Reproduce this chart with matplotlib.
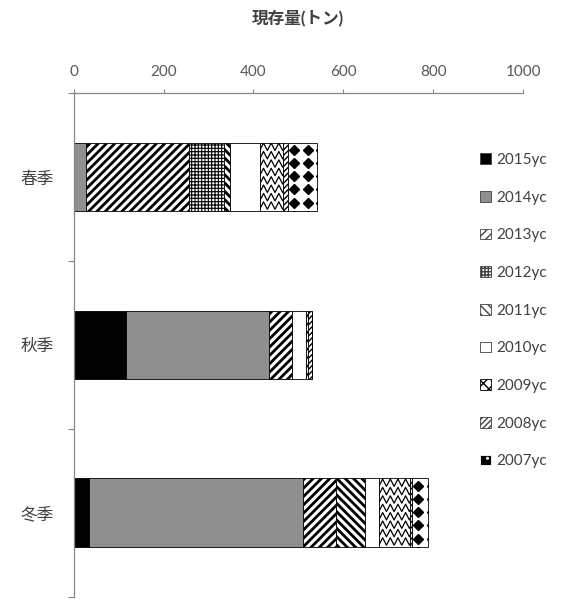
import numpy as np
import matplotlib
matplotlib.use("Agg")
import matplotlib.pyplot as plt
from matplotlib.patches import Patch

plt.rcParams["font.family"] = ["Lato", "Noto Sans CJK JP", "DejaVu Sans"]

seasons = ["春季", "秋季", "冬季"]
year_classes = ["2015yc", "2014yc", "2013yc", "2012yc", "2011yc",
                "2010yc", "2009yc", "2008yc", "2007yc"]
# standing stock (tons) per year class, order: spring, autumn, winter
yc2015 = [0, 117, 35]
yc2014 = [28, 317, 475]
yc2013 = [229, 52, 73]
yc2012 = [77, 0, 0]
yc2011 = [15, 0, 65]
yc2010 = [65, 31, 31]
yc2009 = [51, 5, 69]
yc2008 = [12, 8, 5]
yc2007 = [65, 0, 35]
values = [yc2015, yc2014, yc2013, yc2012, yc2011, yc2010, yc2009, yc2008, yc2007]

# face, hatch, hatch linewidth, special overlay
styles = [
    ("black", "", 1.0, None),
    ("#8f8f8f", "", 1.0, None),
    ("white", "////", 2.0, None),
    ("white", "+++++", 0.8, None),
    ("white", "\\\\\\\\", 2.0, None),
    ("white", "", 1.0, None),
    ("white", "", 1.0, "zigzag"),
    ("white", "//////", 1.0, None),
    ("white", "", 1.0, "diamond"),
]

fig = plt.figure(figsize=(5.75, 5.99), dpi=100)
ax = fig.add_axes([0.128, 0.0035, 0.7818, 0.8412])

ypos = np.arange(len(seasons))
bar_h = 0.41
left = np.zeros(len(seasons))
legend_handles = []

for name, vals, (face, hatch, hlw, special) in zip(year_classes, values, styles):
    vals = np.array(vals, dtype=float)
    with plt.rc_context({"hatch.linewidth": hlw}):
        bars = ax.barh(ypos, vals, left=left, height=bar_h, color=face,
                       edgecolor="black", linewidth=0.6, hatch=hatch, zorder=2)
    for rect, v in zip(bars, vals):
        if v <= 0 or special is None:
            continue
        x0, y0 = rect.get_x(), rect.get_y()
        w, h = rect.get_width(), rect.get_height()
        if special == "zigzag":
            period, amp, gap = 17.0, 0.022, 0.05
            xs = np.arange(x0 - period, x0 + w + period, period / 2)
            for yy in np.arange(y0 + gap / 2, y0 + h, gap):
                ys = yy + amp * np.where(np.arange(len(xs)) % 2 == 0, 1, -1)
                ln, = ax.plot(xs, ys, color="black", lw=0.9, zorder=3)
                ln.set_clip_path(rect)
        elif special == "diamond":
            dx, dy = 29.6, 0.079
            xs = np.arange(x0 + 14.0, x0 + w + dx, dx)
            ys = np.arange(y0 + 0.042, y0 + h + dy, dy)
            gx, gy = np.meshgrid(xs, ys)
            pts, = ax.plot(gx.ravel(), gy.ravel(), "D", color="black",
                           markersize=5.5, zorder=3)
            pts.set_clip_path(rect)
    left = left + vals
    if special == "zigzag":
        legend_handles.append(Patch(facecolor="white", edgecolor="black", hatch="xxx", lw=0.6))
    elif special == "diamond":
        legend_handles.append(Patch(facecolor="black", edgecolor="white", hatch="..", lw=0.6))
    else:
        legend_handles.append(Patch(facecolor=face, edgecolor="#404040", hatch=hatch, lw=0.6))

ax.set_xlim(0, 1000)
ax.set_ylim(2.5, -0.5)
ax.xaxis.set_ticks_position("top")
ax.xaxis.set_label_position("top")
ax.set_xticks([0, 200, 400, 600, 800, 1000])
ax.tick_params(axis="x", direction="out", length=3, width=0.8, color="#868686",
               labelsize=11, labelcolor="#595959", pad=7)
ax.set_yticks(ypos)
ax.set_yticklabels(seasons)
ax.set_yticks([-0.5, 0.5, 1.5, 2.5], minor=True)
ax.tick_params(axis="y", which="major", length=0, labelsize=12,
               labelcolor="#404040", pad=14)
ax.tick_params(axis="y", which="minor", direction="out", length=4, width=0.8,
               color="#868686")
for s in ["right", "bottom"]:
    ax.spines[s].set_visible(False)
for s in ["top", "left"]:
    ax.spines[s].set_color("#868686")
    ax.spines[s].set_linewidth(0.9)

fig.text(0.518, 0.97, "現存量(トン)", ha="center", va="center",
         fontsize=12, fontweight="bold", color="#404040")

ax.legend(legend_handles, year_classes, loc="upper left",
          bbox_to_anchor=(0.825, 0.755), bbox_transform=fig.transFigure,
          frameon=False, fontsize=11, labelcolor="#404040",
          handlelength=0.7, handleheight=0.7, handletextpad=0.35,
          labelspacing=1.55, borderaxespad=0)

fig.savefig("out.png", dpi=100)
